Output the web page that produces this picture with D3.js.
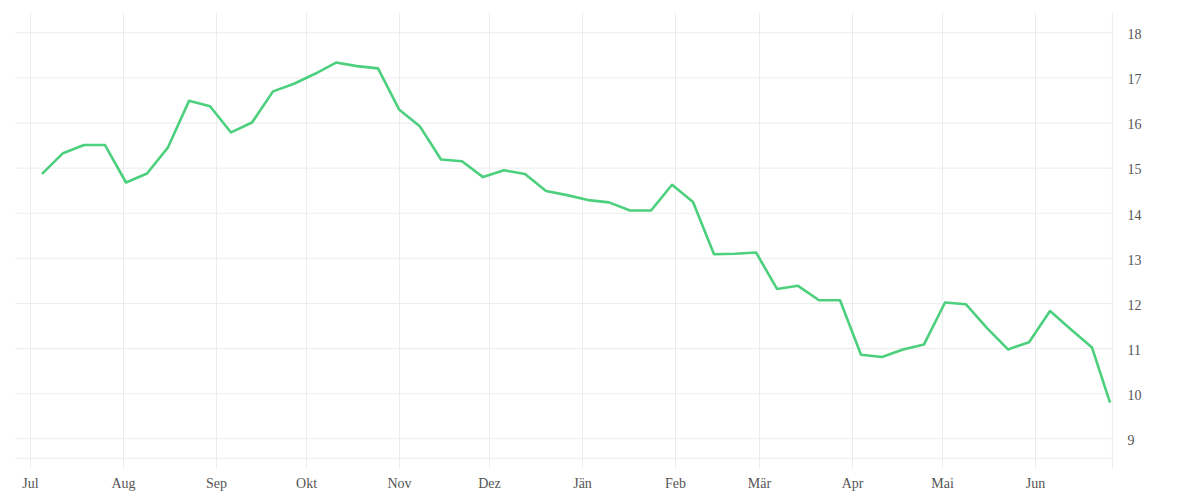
<!DOCTYPE html>
<html>
<head>
<meta charset="utf-8">
<script src="https://cdn.jsdelivr.net/npm/d3@7"></script>
<style>
  html, body { margin: 0; padding: 0; background: #fff; }
  svg { display: block; }
  .tick text { font-family: "Liberation Serif", serif; font-size: 14px; fill: #555; }
</style>
</head>
<body>
<svg id="chart" width="1200" height="500"></svg>
<script>
// Weekly dates (first 51 weekly, last point a partial week)
const startDate = "2022-07-05";
const weeklyCount = 51;
const lastDate = "2023-06-26";
const values = [
  14.86, 15.32, 15.50, 15.50, 14.67, 14.87, 15.45, 16.48, 16.36, 15.78,
  16.00, 16.69, 16.86, 17.08, 17.33, 17.25, 17.20, 16.29, 15.91, 15.18,
  15.14, 14.79, 14.94, 14.86, 14.48, 14.39, 14.28, 14.23, 14.05, 14.05,
  14.62, 14.24, 13.08, 13.09, 13.12, 12.31, 12.38, 12.06, 12.06, 10.85,
  10.80, 10.97, 11.08, 12.01, 11.97, 11.44, 10.97, 11.13, 11.82, 11.41,
  11.01, 9.79
];
const monthLabels = ["Jul","Aug","Sep","Okt","Nov","Dez","Jän","Feb","Mär","Apr","Mai","Jun"];
const yTicks = [9, 10, 11, 12, 13, 14, 15, 16, 17, 18];

(function () {
const parse = d3.timeParse("%Y-%m-%d");
const dates = d3.range(weeklyCount).map(i => d3.timeDay.offset(parse(startDate), i * 7));
dates.push(parse(lastDate));
const data = dates.map((d, i) => ({ date: d, value: values[i] }));

const mLeft = 15.4, mRight = 1112.4, mTop = 12.7, mBottom = 458.3;
const svg = d3.select("#chart");

const x = d3.scaleTime()
  .domain([new Date(2022, 5, 26, 3), new Date(2023, 5, 26, 19)])
  .range([mLeft, mRight]);
const y = d3.scaleLinear()
  .domain([8.556, 18.4345])
  .range([mBottom, mTop]);

const monthTicks = d3.timeMonth.range(new Date(2022, 6, 1), new Date(2023, 6, 1));

// vertical gridlines (x axis ticks)
const xAxis = d3.axisBottom(x)
  .tickValues(monthTicks)
  .tickSize(-(mBottom - mTop) - 10)
  .tickPadding(10)
  .tickFormat((d, i) => monthLabels[i]);
const gx = svg.append("g")
  .attr("transform", `translate(0,${mBottom + 10})`)
  .call(xAxis);
gx.select(".domain").remove();
gx.selectAll(".tick line").attr("stroke", "#ececec").attr("stroke-width", 1);

// horizontal gridlines + right labels
const yAxis = d3.axisRight(y)
  .tickValues(yTicks)
  .tickSize(-(mRight - mLeft))
  .tickPadding(15)
  .tickFormat(d3.format("d"));
const gy = svg.append("g")
  .attr("transform", `translate(${mRight},0)`)
  .call(yAxis);
gy.select(".domain").remove();
gy.selectAll(".tick line").attr("stroke", "#ececec").attr("stroke-width", 1);
gy.selectAll(".tick text").attr("dy", "0.45em");

// bottom baseline
svg.append("line")
  .attr("x1", mLeft).attr("x2", mRight)
  .attr("y1", y(y.domain()[0])).attr("y2", y(y.domain()[0]))
  .attr("stroke", "#ececec");
// right axis line
svg.append("line")
  .attr("x1", mRight).attr("x2", mRight)
  .attr("y1", mTop).attr("y2", mBottom + 10)
  .attr("stroke", "#ececec");

// line
const line = d3.line()
  .x(d => x(d.date))
  .y(d => y(d.value));
svg.append("path")
  .datum(data)
  .attr("fill", "none")
  .attr("stroke", "#4cd07d")
  .attr("stroke-width", 2.6)
  .attr("stroke-linejoin", "round")
  .attr("d", line);
})();
</script>
</body>
</html>
